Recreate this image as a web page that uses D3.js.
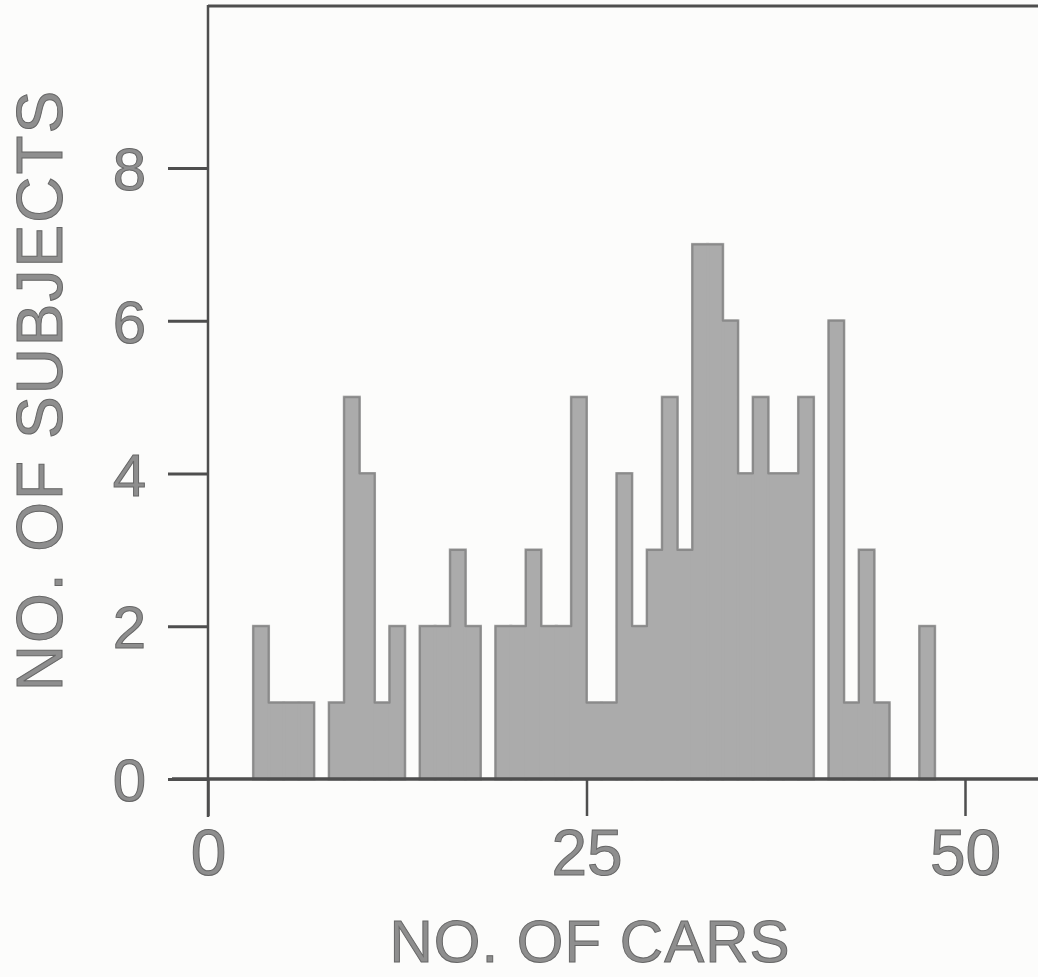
<!DOCTYPE html>
<html>
<head>
<meta charset="utf-8">
<script src="https://cdn.jsdelivr.net/npm/d3@7"></script>
<style>
  html, body { margin: 0; padding: 0; background: #fcfcfb; }
  svg { display: block; }
</style>
</head>
<body>
<svg id="chart" width="1038" height="977"></svg>
<script>
// Lower edge of each 1-car bin (bins are [k, k+1])
const binStarts = [3,4,5,6,7,8,9,10,11,12,13,14,15,16,17,18,19,20,21,22,23,24,25,26,27,28,29,30,31,32,33,34,35,36,37,38,39,40,41,42,43,44,45,46,47];
// Number of subjects in each bin
const subjectCounts = [2,1,1,1,0,1,5,4,1,2,0,2,2,3,2,0,2,2,3,2,2,5,1,1,4,2,3,5,3,7,7,6,4,5,4,4,5,0,6,1,3,1,0,0,2];
const xTicks = [0, 25, 50];
const yTicks = [0, 2, 4, 6, 8];
const xTitle = "NO. OF CARS";
const yTitle = "NO. OF SUBJECTS";

const svg = d3.select("#chart");
const W = 1038, H = 977;

const x = d3.scaleLinear().domain([0, 50]).range([208, 965]);
const y = d3.scaleLinear().domain([0, 8]).range([779, 168]);

const bins = binStarts.map((b, i) => ({ x0: b, x1: b + 1, v: subjectCounts[i] }));

const barFill = "#ababab";
const axisCol = "#4e4e4e";
const textFill = "#8e8e8e";
const textStroke = "#666";

// bars
svg.append("g").selectAll("rect")
  .data(bins.filter(d => d.v > 0))
  .join("rect")
  .attr("x", d => x(d.x0))
  .attr("width", d => x(d.x1) - x(d.x0))
  .attr("y", d => y(d.v))
  .attr("height", d => y(0) - y(d.v))
  .attr("fill", barFill)
  .attr("stroke", barFill)
  .attr("stroke-width", 3);

// darker outline of each contiguous group
const groups = [];
let cur = null;
bins.forEach(d => {
  if (d.v > 0) {
    if (!cur) { cur = []; groups.push(cur); }
    cur.push(d);
  } else cur = null;
});
const stepLine = d3.line().x(p => x(p[0])).y(p => y(p[1])).curve(d3.curveStepAfter);
groups.forEach(g => {
  const pts = [[g[0].x0, 0]];
  g.forEach(d => pts.push([d.x0, d.v]));
  pts.push([g[g.length - 1].x1, 0]);
  svg.append("path")
    .attr("d", stepLine(pts))
    .attr("fill", "none")
    .attr("stroke", "#8a8a8a")
    .attr("stroke-width", 2)
    .attr("stroke-linejoin", "round");
});

// frame: top line and y axis line
svg.append("line")
  .attr("x1", x(0)).attr("x2", W).attr("y1", 6).attr("y2", 6)
  .attr("stroke", axisCol).attr("stroke-width", 3);
svg.append("line")
  .attr("x1", x(0)).attr("x2", x(0)).attr("y1", 5).attr("y2", y(0) + 38)
  .attr("stroke", axisCol).attr("stroke-width", 2.5);

// x axis line
svg.append("line")
  .attr("x1", 172).attr("x2", W).attr("y1", y(0)).attr("y2", y(0))
  .attr("stroke", axisCol).attr("stroke-width", 3.5);

// y ticks
const yAxis = d3.axisLeft(y).tickValues(yTicks).tickSize(40).tickFormat(d3.format("d")).tickPadding(22);
const gy = svg.append("g").attr("transform", `translate(${x(0)},0)`).call(yAxis);
gy.select(".domain").remove();
gy.selectAll(".tick line").attr("stroke", axisCol).attr("stroke-width", 3);
gy.selectAll(".tick text")
  .attr("font-family", "Liberation Sans, Arial, sans-serif")
  .attr("font-size", 60)
  .attr("fill", textFill).attr("stroke", textStroke).attr("stroke-width", 1)
  .attr("dy", "0.36em");

// x ticks
const xAxis = d3.axisBottom(x).tickValues(xTicks).tickSize(37).tickFormat(d3.format("d")).tickPadding(14);
const gx = svg.append("g").attr("transform", `translate(0,${y(0)})`).call(xAxis);
gx.select(".domain").remove();
gx.selectAll(".tick line").attr("stroke", axisCol).attr("stroke-width", 2.5);
gx.selectAll(".tick text")
  .attr("font-family", "Liberation Sans, Arial, sans-serif")
  .attr("font-size", 64)
  .attr("fill", textFill).attr("stroke", textStroke).attr("stroke-width", 1);

// axis titles
svg.append("text")
  .attr("x", 590).attr("y", 962)
  .attr("text-anchor", "middle")
  .attr("font-family", "Liberation Sans, Arial, sans-serif")
  .attr("font-size", 60)
  .attr("letter-spacing", 1)
  .attr("fill", textFill).attr("stroke", textStroke).attr("stroke-width", 1)
  .text(xTitle);

svg.append("text")
  .attr("transform", "translate(62,390) rotate(-90)")
  .attr("text-anchor", "middle")
  .attr("font-family", "Liberation Sans, Arial, sans-serif")
  .attr("font-size", 64)
  .attr("letter-spacing", 2)
  .attr("fill", textFill).attr("stroke", textStroke).attr("stroke-width", 1)
  .text(yTitle);
</script>
</body>
</html>
